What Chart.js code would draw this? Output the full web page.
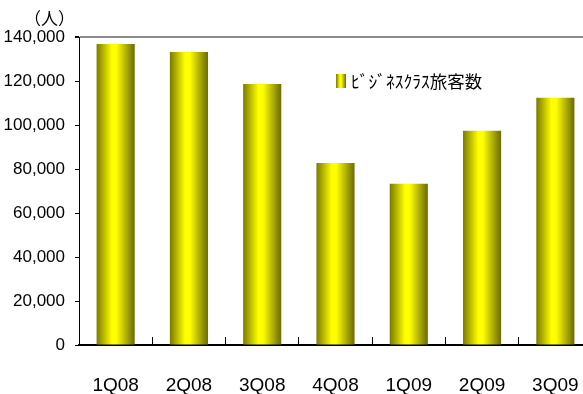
<!DOCTYPE html>
<html lang="ja">
<head>
    <meta charset="UTF-8" />
    <title>ビジネスクラス旅客数</title>
    <script src="https://cdn.jsdelivr.net/npm/chart.js"></script>
    <style>
        html, body {
          margin: 0;
          padding: 0;
          background: #ffffff;
          overflow: hidden;
        }

        canvas {
          display: block;
        }
    </style>
</head>
<body>

<canvas id="paxChart" width="600" height="394"></canvas>

<script>
    // quarters and business class passengers
    const categories = ['1Q08', '2Q08', '3Q08', '4Q08', '1Q09', '2Q09', '3Q09'];
    const passengers = [136800, 133200, 118600, 82700, 73300, 97400, 112400];
    const seriesLabel = 'ﾋﾞｼﾞﾈｽｸﾗｽ旅客数';
    const unitLabel = '（人）';
    const yMax = 140000;
    const yStep = 20000;

    const tickFont = "'Liberation Sans', sans-serif";
    const jpFont = "'Noto Sans CJK JP', sans-serif";

    function cylinder(ctx, x0, x1) {
      const g = ctx.createLinearGradient(x0, 0, x1, 0);
      g.addColorStop(0, '#7a7a00');
      g.addColorStop(0.4, '#ffff00');
      g.addColorStop(0.52, '#ffff00');
      g.addColorStop(1, '#6a6a00');
      return g;
    }

    function barFill(c) {
      const chart = c.chart;
      const xs = chart.scales.x;
      if (!xs || !chart.chartArea) return '#e0e000';
      const cx = xs.getPixelForValue(c.dataIndex);
      const w = (xs.width / categories.length) * 0.52;
      if (!isFinite(cx) || !isFinite(w)) return '#e0e000';
      return cylinder(chart.ctx, cx - w / 2, cx + w / 2);
    }

    // unit label and the legend box inside the plot
    const extras = {
      id: 'extras',
      afterDraw(chart) {
        const ctx = chart.ctx;
        ctx.save();
        ctx.fillStyle = '#000';
        ctx.textBaseline = 'middle';
        ctx.font = '17px ' + jpFont;
        ctx.fillText(unitLabel, 24, 19);

        ctx.fillStyle = cylinder(ctx, 336, 346);
        ctx.fillRect(336, 74, 10, 14);
        ctx.fillStyle = '#000';
        ctx.font = '17.5px ' + jpFont;
        ctx.fillText(seriesLabel, 351, 81);
        ctx.restore();
      }
    };

    const ctx = document.getElementById('paxChart').getContext('2d');

    new Chart(ctx, {
      type: 'bar',
      data: {
        labels: categories,
        datasets: [{
          label: seriesLabel,
          data: passengers,
          backgroundColor: barFill,
          borderWidth: 0,
          categoryPercentage: 1,
          barPercentage: 0.52
        }]
      },
      options: {
        responsive: false,
        animation: false,
        layout: { padding: { top: 37, left: 0, right: 8, bottom: 0 } },
        plugins: {
          legend: { display: false },
          tooltip: { enabled: false }
        },
        scales: {
          x: {
            afterFit: s => {
              s.height = 49;
              s.paddingLeft = 0;
              s.paddingRight = 0;
            },
            grid: {
              offset: true,
              drawOnChartArea: false,
              tickLength: -8,
              tickColor: '#000'
            },
            border: { color: '#000', width: 2 },
            ticks: {
              color: '#000',
              font: { family: tickFont, size: 19 },
              padding: 37
            }
          },
          y: {
            min: 0,
            max: yMax,
            afterFit: s => { s.width = 79; },
            grid: {
              color: c => (c.tick && c.tick.value === yMax) ? '#8c8c8c' : 'rgba(0,0,0,0)',
              lineWidth: c => (c.tick && c.tick.value === yMax) ? 2 : 1,
              tickColor: '#000',
              tickLength: 4
            },
            border: { color: '#000', width: 1 },
            ticks: {
              stepSize: yStep,
              color: '#000',
              padding: 10,
              font: { family: tickFont, size: 17 },
              callback: v => v.toLocaleString('en-US')
            }
          }
        }
      },
      plugins: [extras]
    });
</script>

</body>
</html>
